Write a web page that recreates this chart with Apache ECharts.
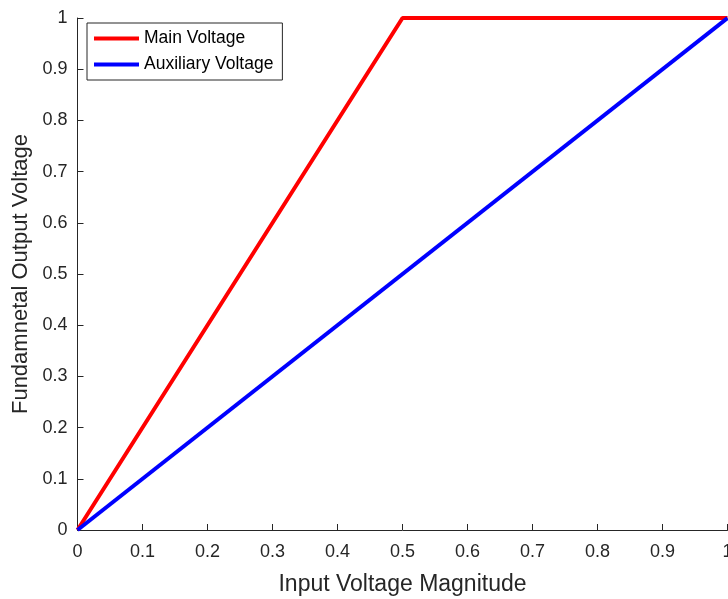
<!DOCTYPE html>
<html><head><meta charset="utf-8">
<script src="https://cdn.jsdelivr.net/npm/echarts@6/dist/echarts.min.js"></script>
<style>html,body{margin:0;padding:0;background:#fff}#c{width:728px;height:599px}</style>
</head><body><div id="c"></div>
<script>
const mainX = [0, 0.5, 1];
const mainY = [0, 1, 1];
const auxX = [0, 1];
const auxY = [0, 1];
const xTicks = [0, 0.1, 0.2, 0.3, 0.4, 0.5, 0.6, 0.7, 0.8, 0.9, 1];
const yTicks = [0, 0.1, 0.2, 0.3, 0.4, 0.5, 0.6, 0.7, 0.8, 0.9, 1];
const seriesNames = ['Main Voltage', 'Auxiliary Voltage'];

const zip = (xs, ys) => xs.map((x, i) => [x, ys[i]]);
const fmt = v => (Math.abs(v - 1) < 1e-9 ? '1' : Math.abs(v) < 1e-9 ? '0' : String(Math.round(v * 10) / 10));
const font = 'Liberation Sans, Arial, sans-serif';

const chart = echarts.init(document.getElementById('c'), null, {renderer: 'canvas'});
chart.setOption({
  animation: false,
  grid: {left: 77.5, right: 0.5, top: 18, bottom: 69, containLabel: false, outerBoundsMode: 'none'},
  legend: {
    show: true,
    left: 87, top: 23,
    orient: 'vertical',
    itemWidth: 45, itemHeight: 4, itemGap: 8,
    padding: [6.5, 9, 6.5, 7],
    borderColor: '#262626', borderWidth: 1,
    backgroundColor: '#fff',
    icon: 'rect',
    textStyle: {fontFamily: font, fontSize: 17.5, lineHeight: 17, color: '#000'},
    data: seriesNames
  },
  xAxis: {
    type: 'value', min: 0, max: 1, interval: 0.1,
    name: 'Input Voltage Magnitude', nameLocation: 'middle', nameGap: 43,
    nameTextStyle: {fontFamily: font, fontSize: 23, color: '#262626'},
    axisLine: {show: true, lineStyle: {color: '#262626', width: 1}},
    axisTick: {show: true, inside: true, length: 6, lineStyle: {color: '#262626'}},
    axisLabel: {fontFamily: font, fontSize: 18, color: '#262626', margin: 13, formatter: fmt, hideOverlap: false},
    splitLine: {show: false}
  },
  yAxis: {
    type: 'value', min: 0, max: 1, interval: 0.1,
    name: 'Fundamnetal Output Voltage', nameLocation: 'middle', nameGap: 42,
    nameTextStyle: {fontFamily: font, fontSize: 22, color: '#262626'},
    axisLine: {show: true, lineStyle: {color: '#262626', width: 1}},
    axisTick: {show: true, inside: true, length: 6, lineStyle: {color: '#262626'}},
    axisLabel: {fontFamily: font, fontSize: 18, color: '#262626', margin: 10, formatter: fmt, hideOverlap: false},
    splitLine: {show: false}
  },
  series: [
    {name: seriesNames[0], type: 'line', data: zip(mainX, mainY), showSymbol: false, symbol: 'none', clip: false,
     itemStyle: {color: '#ff0000'}, lineStyle: {color: '#ff0000', width: 4}},
    {name: seriesNames[1], type: 'line', data: zip(auxX, auxY), showSymbol: false, symbol: 'none', clip: false,
     itemStyle: {color: '#0000ff'}, lineStyle: {color: '#0000ff', width: 4}}
  ]
});
</script></body></html>
